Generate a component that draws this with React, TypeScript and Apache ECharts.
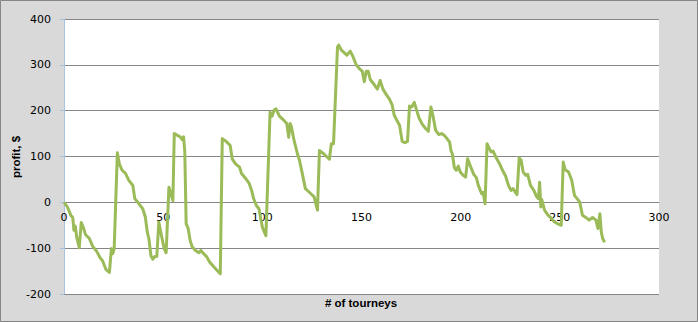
import React, { useEffect, useRef } from "react";
import * as echarts from "echarts";

const tourneys = [
  0, 1.7, 3.4, 4.4, 5, 5.7, 6.4, 7.7, 8.7, 9.8, 10.8, 12.8, 14.5, 16.5, 18.2, 19.5, 21.2, 22.9, 23.9, 24.6,
  25.3, 26.9, 27.9, 29.3, 31, 32.7, 34.7, 35.7, 37.4, 39.7, 41, 42, 42.8, 43.8, 44.8, 45.8, 46.8, 47.8, 49.1, 50.5,
  51.5, 52.9, 54.9, 55.6, 57.2, 58.6, 59.6, 60.3, 60.9, 61.6, 62.6, 63.6, 64.6, 66.3, 68, 69, 70.4, 72, 73.4, 75.4,
  77.1, 78.8, 79.8, 81.5, 83.8, 84.8, 86.5, 88.5, 89.5, 91.6, 93.3, 94.6, 95.6, 97, 98.3, 100, 101.8, 103.9, 104.9, 105.9,
  106.9, 108.6, 110.6, 112.3, 113.3, 114, 114.6, 116, 117.7, 118.7, 120, 121.7, 123.7, 126.1, 127.8, 128.8, 131.2, 133.8, 134.8, 135.9,
  137.9, 138.5, 139.9, 142.6, 144.3, 145.6, 147.3, 149.3, 150.4, 151.4, 152.4, 153.4, 154.4, 156.4, 158, 159.4, 160.8, 162.5, 164.1, 165.5,
  166.5, 167.8, 169.2, 170.5, 171.9, 173.2, 174.2, 175.3, 176.6, 177.6, 179, 180.7, 182.3, 183.7, 185, 186, 187.4, 189, 190.4, 191.8,
  193.1, 194.4, 195.1, 195.8, 196.8, 197.8, 198.8, 199.8, 201.2, 202.5, 203.5, 204.9, 206.6, 207.9, 208.9, 209.9, 210.6, 211.3, 212.3, 213.3,
  214.3, 215.3, 216.3, 217.7, 219.4, 221.1, 222.7, 224.1, 225.4, 226.4, 227.4, 228.4, 229.5, 230.5, 231.5, 232.8, 233.8, 235.2, 236.9, 238.2,
  239.2, 239.8, 240.4, 240.9, 242.3, 244, 245.3, 247.3, 249, 250.7, 251.7, 252.7, 254.4, 256, 257.4, 258.7, 260, 261.4, 263.1, 264.8,
  266.5, 268.2, 269.2, 270.2, 270.9, 271.6, 272.6,
];

const profit = [
  0, -10, -28, -33, -61, -52, -76, -99, -44, -55, -70, -79, -96, -107, -121, -128, -147, -153, -101, -112,
  -101, 108, 84, 70, 63, 48, 37, 8, -1, -14, -32, -65, -79, -116, -124, -118, -118, -43, -72, -101,
  -110, 33, 4, 150, 146, 143, 137, 143, 110, -47, -57, -83, -97, -105, -110, -105, -112, -119, -130, -140,
  -148, -156, 139, 134, 124, 95, 84, 77, 63, 52, 42, 26, 8, -7, -14, -54, -73, 197, 188, 201,
  204, 188, 180, 172, 142, 172, 166, 135, 106, 92, 66, 30, 22, 12, -17, 113, 105, 94, 128, 128,
  339, 343, 332, 321, 330, 319, 300, 290, 286, 263, 286, 286, 268, 257, 247, 266, 247, 235, 225, 212,
  190, 179, 168, 133, 130, 133, 210, 208, 218, 204, 184, 170, 161, 155, 208, 190, 157, 148, 150, 146,
  139, 132, 113, 106, 76, 70, 79, 66, 59, 55, 95, 79, 61, 54, 37, 26, 19, 22, -3, 128,
  119, 110, 112, 99, 86, 70, 57, 37, 26, 30, 23, 17, 97, 92, 66, 59, 61, 37, 26, 13,
  8, 44, -10, 6, -17, -28, -33, -43, -47, -50, 88, 71, 66, 48, 15, 8, 1, -28, -33, -39,
  -33, -39, -57, -25, -65, -79, -87,
];

const xTitle = "# of tourneys";
const yTitle = "profit, $";
const yMin = -200;
const yMax = 400;

export default function App() {
  const ref = useRef<HTMLDivElement>(null);
  useEffect(() => {
    if (!ref.current) return;
    const chart = echarts.init(ref.current, undefined, { renderer: "svg" });
    const data = tourneys.map((x, i) => [x, profit[i]]);
    const gridTop = 19;
    const gridBottom = 28;
    const gridHeight = 322 - gridTop - gridBottom;
    const zeroOffset = -((0 - yMin) / (yMax - yMin)) * gridHeight;
    chart.setOption({
      animation: false,
      backgroundColor: "#d9d9d9",
      grid: {
        left: 64,
        top: gridTop,
        right: 39,
        bottom: gridBottom,
        show: true,
        backgroundColor: "#ffffff",
        borderWidth: 0,
      },
      xAxis: {
        type: "value",
        min: 0,
        max: 300,
        interval: 50,
        position: "bottom",
        offset: zeroOffset,
        axisLine: {
          show: true,
          onZero: false,
          lineStyle: { color: "#868686", width: 1 },
        },
        axisTick: { show: false },
        axisLabel: { color: "#000", fontFamily: "DejaVu Sans", fontSize: 11, margin: 10 },
        splitLine: { show: false },
      },
      yAxis: {
        type: "value",
        min: yMin,
        max: yMax,
        interval: 100,
        position: "left",
        axisLine: { show: true, onZero: false, lineStyle: { color: "#a7c2e3", width: 1 } },
        axisTick: { show: true, length: 4, lineStyle: { color: "#a7c2e3" } },
        axisLabel: { color: "#000", fontFamily: "DejaVu Sans", fontSize: 11, margin: 13 },
        splitLine: { show: true, lineStyle: { color: "#868686", width: 1 } },
      },
      series: [
        {
          type: "line",
          data,
          showSymbol: false,
          symbol: "none",
          lineStyle: { color: "#9bbb59", width: 3, join: "round" },
          z: 3,
        },
      ],
      graphic: [
        {
          type: "rect",
          shape: { x: 0.5, y: 0.5, width: 697, height: 321 },
          style: { fill: "none", stroke: "#868686", lineWidth: 1 },
          silent: true,
        },
        {
          type: "text",
          x: 16,
          y: 157,
          rotation: Math.PI / 2,
          style: {
            text: yTitle,
            fontFamily: "Liberation Sans",
            fontWeight: "bold",
            fontSize: 11.5,
            fill: "#000",
            align: "center",
            verticalAlign: "middle",
          },
        },
        {
          type: "text",
          x: 361,
          y: 303,
          style: {
            text: xTitle,
            fontFamily: "Liberation Sans",
            fontWeight: "bold",
            fontSize: 11.5,
            fill: "#000",
            align: "center",
            verticalAlign: "middle",
          },
        },
      ],
    });
    return () => chart.dispose();
  }, []);
  return (
    <div
      ref={ref}
      style={{ position: "absolute", left: 0, top: 0, width: 698, height: 322 }}
    />
  );
}
